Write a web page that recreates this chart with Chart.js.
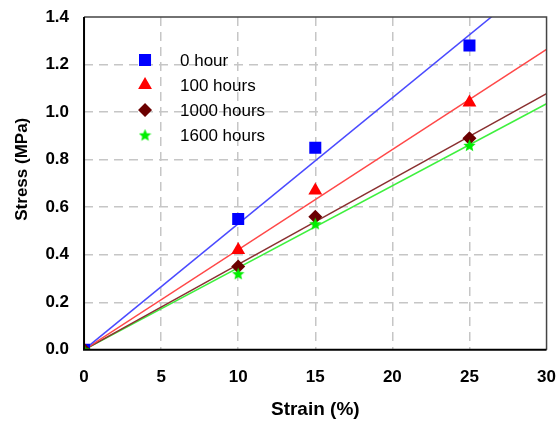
<!DOCTYPE html>
<html>
<head>
<meta charset="utf-8">
<script src="https://cdn.jsdelivr.net/npm/chart.js@4/dist/chart.umd.min.js"></script>
<style>
  html, body { margin: 0; padding: 0; background: #fff; }
  #wrap { width: 557px; height: 427px; }
</style>
</head>
<body>
<div id="wrap"><canvas id="stressChart" width="557" height="427"></canvas></div>
<script>
// strain values where stress was measured
var strainPts = [0, 10, 15, 25];

// measured stress (MPa) for each ageing time
var stress0h    = [0, 0.55, 0.85, 1.28];
var stress100h  = [0, 0.42, 0.67, 1.04];
var stress1000h = [0, 0.35, 0.56, 0.89];
var stress1600h = [0, 0.32, 0.53, 0.86];

// linear fits through origin, given as stress at the ends of the x range
var fitX       = [0, 30];
var fit0h      = [0, 1.59];
var fit100h    = [0, 1.264];
var fit1000h   = [0, 1.078];
var fit1600h   = [0, 1.035];

var seriesNames = ['0 hour', '100 hours', '1000 hours', '1600 hours'];
var xTicks = [0, 5, 10, 15, 20, 25, 30];
var yTicks = [0, 0.2, 0.4, 0.6, 0.8, 1.0, 1.2, 1.4];

var FONT = 'Arial, "Liberation Sans", sans-serif';

function toPoints(xs, ys) {
    var out = [];
    for (var i = 0; i < xs.length; i++) out.push({x: xs[i], y: ys[i]});
    return out;
}

// filled five point star used as the marker of the 1600 hours series
function makeStar(size, color) {
    var c = document.createElement('canvas');
    c.width = size; c.height = size;
    var g = c.getContext('2d');
    var cx = size / 2, cy = size / 2 + 0.5, R = size / 2, r = R * 0.45;
    g.beginPath();
    for (var i = 0; i < 10; i++) {
        var rad = (i % 2 === 0) ? R : r;
        var a = -Math.PI / 2 + i * Math.PI / 5;
        var px = cx + rad * Math.cos(a), py = cy + rad * Math.sin(a);
        if (i === 0) g.moveTo(px, py); else g.lineTo(px, py);
    }
    g.closePath();
    g.fillStyle = color;
    g.fill();
    return c;
}
var starImg = makeStar(13, '#00ee00');

var markers = [
    {label: seriesNames[0], data: stress0h,    color: '#0000ff', style: 'rect',     radius: 8.5, order: 3},
    {label: seriesNames[1], data: stress100h,  color: '#ff0000', style: 'triangle', radius: 8,   order: 2},
    {label: seriesNames[2], data: stress1000h, color: '#6b0000', style: 'rectRot',  radius: 7,   order: 1},
    {label: seriesNames[3], data: stress1600h, color: '#00ee00', style: starImg,    radius: 6.5, order: 0}
];
var fits = [
    {data: fit0h,    color: '#4a4aff'},
    {data: fit100h,  color: '#ff4848'},
    {data: fit1000h, color: '#8a3030'},
    {data: fit1600h, color: '#3ef03e'}
];

var datasets = [];
markers.forEach(function (m) {
    datasets.push({
        label: m.label,
        data: toPoints(strainPts, m.data),
        pointStyle: m.style,
        pointRadius: m.radius,
        pointHoverRadius: m.radius,
        backgroundColor: m.color,
        borderColor: m.color,
        borderWidth: 0,
        showLine: false,
        order: m.order
    });
});
fits.forEach(function (f) {
    datasets.push({
        label: '',
        data: toPoints(fitX, f.data),
        showLine: true,
        pointRadius: 0,
        borderColor: f.color,
        borderWidth: 1.5,
        fill: false,
        order: 10
    });
});

// legend drawn inside the plot, stacked vertically
var innerLegend = {
    id: 'innerLegend',
    afterDatasetsDraw: function (chart) {
        var ctx = chart.ctx;
        var area = chart.chartArea;
        var x0 = area.left + 61, y0 = area.top + 43, gap = 25;
        ctx.save();
        ctx.font = '17px ' + FONT;
        ctx.textBaseline = 'middle';
        markers.forEach(function (m, i) {
            var y = y0 + i * gap;
            ctx.fillStyle = m.color;
            ctx.strokeStyle = m.color;
            Chart.helpers.drawPoint(ctx, {pointStyle: m.style, radius: m.radius, borderWidth: 0, rotation: 0}, x0, y);
            ctx.fillStyle = '#000';
            ctx.fillText(m.label, x0 + 35, y + 1);
        });
        ctx.restore();
    }
};

// box around the plot
var frame = {
    id: 'frame',
    afterDraw: function (chart) {
        var ctx = chart.ctx, a = chart.chartArea;
        ctx.save();
        ctx.strokeStyle = '#444';
        ctx.lineWidth = 1.5;
        ctx.beginPath();
        ctx.moveTo(a.left, a.top);
        ctx.lineTo(a.right, a.top);
        ctx.lineTo(a.right, a.bottom);
        ctx.stroke();
        ctx.strokeStyle = '#000';
        ctx.lineWidth = 2;
        ctx.beginPath();
        ctx.moveTo(a.left, a.top);
        ctx.lineTo(a.left, a.bottom);
        ctx.lineTo(a.right, a.bottom);
        ctx.stroke();
        ctx.restore();
    }
};

function gridColor(ticks) {
    return function (c) {
        return (c.index === 0 || c.index === ticks.length - 1) ? 'rgba(0,0,0,0)' : '#c6c6c6';
    };
}

var ctx = document.getElementById('stressChart').getContext('2d');
var chart = new Chart(ctx, {
    type: 'scatter',
    data: {datasets: datasets},
    plugins: [innerLegend, frame],
    options: {
        responsive: false,
        animation: false,
        layout: {padding: {top: 17, right: 0, left: 12, bottom: 6}},
        plugins: {
            legend: {display: false},
            tooltip: {enabled: false}
        },
        scales: {
            x: {
                type: 'linear',
                min: xTicks[0],
                max: xTicks[xTicks.length - 1],
                afterBuildTicks: function (axis) {
                    axis.ticks = xTicks.map(function (v) { return {value: v}; });
                },
                border: {display: false, dash: [9, 6]},
                grid: {
                    color: gridColor(xTicks),
                    lineWidth: 1.5,
                    drawTicks: true,
                    tickLength: 16,
                    tickColor: 'rgba(0,0,0,0)'
                },
                ticks: {
                    color: '#000',
                    font: {family: FONT, size: 17, weight: 'bold'},
                    padding: 1
                },
                title: {
                    display: true,
                    text: 'Strain (%)',
                    color: '#000',
                    font: {family: FONT, size: 19, weight: 'bold'},
                    padding: {top: 10, bottom: 0}
                }
            },
            y: {
                min: yTicks[0],
                max: yTicks[yTicks.length - 1],
                afterBuildTicks: function (axis) {
                    axis.ticks = yTicks.map(function (v) { return {value: v}; });
                },
                border: {display: false, dash: [9, 6]},
                grid: {
                    color: gridColor(yTicks),
                    lineWidth: 1.5,
                    drawTicks: true,
                    tickLength: 12,
                    tickColor: 'rgba(0,0,0,0)'
                },
                ticks: {
                    color: '#000',
                    font: {family: FONT, size: 17, weight: 'bold'},
                    padding: 3,
                    callback: function (v) { return Number(v).toFixed(1); }
                },
                title: {
                    display: true,
                    text: '      Stress (MPa)',
                    color: '#000',
                    font: {family: FONT, size: 17, weight: 'bold'},
                    padding: {top: 0, bottom: 10}
                }
            }
        }
    }
});
</script>
</body>
</html>
